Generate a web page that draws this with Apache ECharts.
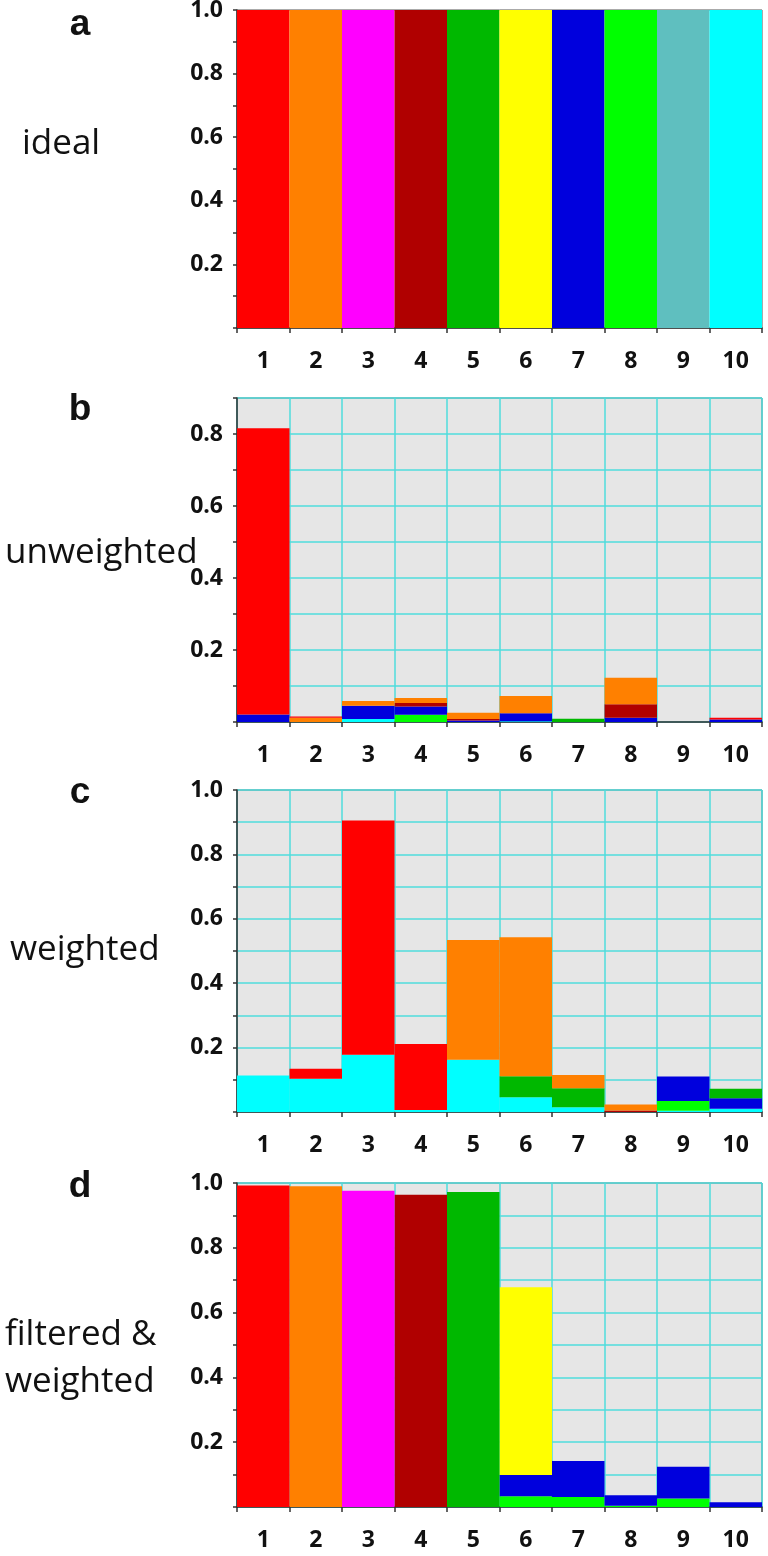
<!DOCTYPE html>
<html>
<head>
<meta charset="UTF-8">
<title>stacked component bars</title>
<style>
*{margin:0;padding:0;}
body{background:#fff;}
#main{width:768px;height:1556px;}
</style>
</head>
<body>
<div id="main"></div>
<script src="https://cdn.jsdelivr.net/npm/echarts@6/dist/echarts.min.js"></script>
<script>
var categories = ['1', '2', '3', '4', '5', '6', '7', '8', '9', '10'];
var yMax = [1.0, 0.9, 1.0, 1.0];

// a - ideal, one component per bar
var idealValues = [1, 1, 1, 1, 1, 1, 1, 1, 1, 1];

// b - unweighted
var unwRed     = [0.795, 0.003, 0, 0, 0, 0, 0, 0, 0, 0.005];
var unwOrange  = [0, 0.012, 0.013, 0.014, 0.018, 0.048, 0, 0.074, 0, 0];
var unwDarkred = [0, 0, 0, 0.010, 0.004, 0, 0, 0.037, 0, 0];
var unwGreen   = [0, 0, 0, 0, 0, 0, 0.009, 0, 0, 0];
var unwBlue    = [0.021, 0, 0.037, 0.023, 0.004, 0.022, 0, 0.012, 0, 0.007];
var unwLime    = [0, 0, 0, 0.020, 0, 0, 0, 0, 0, 0];
var unwCyan    = [0, 0, 0.008, 0, 0, 0.002, 0, 0, 0, 0];

// c - weighted
var wRed     = [0, 0.031, 0.727, 0.205, 0, 0, 0, 0, 0, 0];
var wOrange  = [0, 0, 0, 0, 0.372, 0.432, 0.041, 0.018, 0, 0];
var wDarkred = [0, 0, 0, 0, 0, 0, 0, 0.005, 0, 0];
var wGreen   = [0, 0, 0, 0, 0, 0.065, 0.059, 0, 0, 0.029];
var wBlue    = [0, 0, 0, 0, 0, 0, 0, 0, 0.076, 0.033];
var wLime    = [0, 0, 0, 0, 0, 0, 0, 0, 0.030, 0];
var wCyan    = [0.113, 0.103, 0.178, 0.006, 0.162, 0.046, 0.015, 0, 0.004, 0.010];

// d - filtered & weighted
var fRed     = [0.992, 0, 0, 0, 0, 0, 0, 0, 0, 0];
var fOrange  = [0, 0.990, 0, 0, 0, 0, 0, 0, 0, 0];
var fMagenta = [0, 0, 0.976, 0, 0, 0, 0, 0, 0, 0];
var fDarkred = [0, 0, 0, 0.964, 0, 0, 0, 0, 0, 0];
var fGreen   = [0, 0, 0, 0, 0.972, 0, 0, 0, 0, 0];
var fYellow  = [0, 0, 0, 0, 0, 0.579, 0, 0, 0, 0];
var fBlue    = [0, 0, 0, 0, 0, 0.066, 0.111, 0.032, 0.098, 0.015];
var fLime    = [0, 0, 0, 0, 0, 0.033, 0.031, 0.004, 0.026, 0];

var colors = {
	red: '#ff0000', orange: '#ff8000', magenta: '#ff00ff', darkred: '#b00000', green: '#00b800',
	yellow: '#ffff00', blue: '#0000dd', lime: '#00ff00', teal: '#5fbfbf', cyan: '#00ffff'
};
var idealColors = ['red', 'orange', 'magenta', 'darkred', 'green', 'yellow', 'blue', 'lime', 'teal', 'cyan'];
// bottom to top inside a bar
var stackOrder = ['cyan', 'teal', 'lime', 'blue', 'yellow', 'green', 'darkred', 'magenta', 'orange', 'red'];

var panels = [
	null,
	{cyan: unwCyan, lime: unwLime, blue: unwBlue, green: unwGreen, darkred: unwDarkred, orange: unwOrange, red: unwRed},
	{cyan: wCyan, lime: wLime, blue: wBlue, green: wGreen, darkred: wDarkred, orange: wOrange, red: wRed},
	{lime: fLime, blue: fBlue, yellow: fYellow, green: fGreen, darkred: fDarkred, magenta: fMagenta, orange: fOrange, red: fRed}
];

var gridBox = [
	{top: 10, height: 318},
	{top: 398, height: 324},
	{top: 790, height: 322},
	{top: 1183, height: 324}
];

var labelFont = {fontFamily: 'Open Sans', fontWeight: 'bold', fontSize: 23, color: '#111'};
var cyanLine = {color: '#4fdcdc', width: 1.5};

var grids = [], xAxes = [], yAxes = [], series = [];
for (var i = 0; i < 4; i++) {
	grids.push({
		left: 237, right: 6, top: gridBox[i].top, height: gridBox[i].height,
		show: true, backgroundColor: i == 0 ? '#fff' : '#e6e6e6',
		borderColor: '#555', borderWidth: 1, outerBoundsMode: 'none'
	});
	xAxes.push({
		type: 'category', gridIndex: i, data: categories, boundaryGap: true,
		axisLine: {lineStyle: {color: '#333', width: 1.5}},
		axisTick: {show: true, interval: 0, length: 5, lineStyle: {color: '#333', width: 1.5}},
		axisLabel: Object.assign({interval: 0, margin: 22}, labelFont),
		splitLine: {show: i > 0, interval: 0, lineStyle: cyanLine}
	});
	yAxes.push({
		type: 'value', gridIndex: i, min: 0, max: yMax[i], interval: 0.1,
		axisLine: {show: true, lineStyle: {color: '#333', width: 1.5}},
		axisTick: {show: true, length: 4, lineStyle: {color: '#333', width: 1.5}},
		axisLabel: Object.assign({
			margin: 14,
			formatter: function (v) {
				var k = Math.round(v * 10);
				return (k > 0 && k % 2 == 0) ? (k / 10).toFixed(1) : '';
			}
		}, labelFont),
		splitLine: {show: i > 0, lineStyle: cyanLine}
	});
}

// panel a
series.push({
	type: 'bar', xAxisIndex: 0, yAxisIndex: 0, barCategoryGap: '0%',
	data: idealValues.map(function (v, j) {
		return {value: v, itemStyle: {color: colors[idealColors[j]]}};
	})
});

// panels b, c, d
for (var p = 1; p < 4; p++) {
	stackOrder.forEach(function (name) {
		var vals = panels[p][name];
		if (!vals) return;
		series.push({
			type: 'bar', name: name, xAxisIndex: p, yAxisIndex: p, stack: 'panel' + p,
			barCategoryGap: '0%', itemStyle: {color: colors[name]}, data: vals
		});
	});
}

function txt(s, x, y, font, align) {
	return {
		type: 'text', x: x, y: y,
		style: {text: s, font: font, fill: '#111', textAlign: align || 'left', textVerticalAlign: 'middle'}
	};
}
var letterFont = 'bold 37px "Liberation Sans"';
var rowFont = '35px "Open Sans"';

var chart = echarts.init(document.getElementById('main'));
chart.setOption({
	animation: false,
	grid: grids,
	xAxis: xAxes,
	yAxis: yAxes,
	series: series,
	graphic: [
		txt('a', 80, 25, letterFont, 'center'),
		txt('b', 80, 410, letterFont, 'center'),
		txt('c', 80, 793, letterFont, 'center'),
		txt('d', 80, 1187, letterFont, 'center'),
		txt('ideal', 22, 144, rowFont),
		txt('unweighted', 5, 553, rowFont),
		txt('weighted', 10, 950, rowFont),
		txt('filtered &', 5, 1335, rowFont),
		txt('weighted', 5, 1382, rowFont)
	]
});
</script>
</body>
</html>
